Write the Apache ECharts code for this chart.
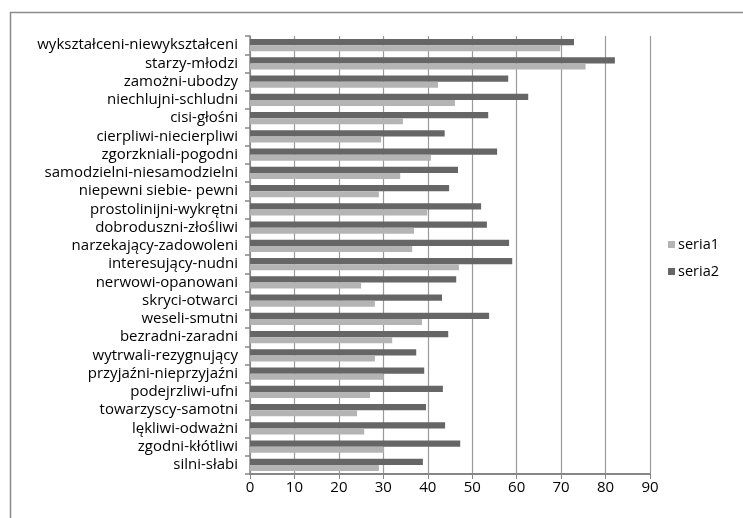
<!DOCTYPE html>
<html><head><meta charset="utf-8">
<script src="https://cdn.jsdelivr.net/npm/echarts@6/dist/echarts.min.js"></script>
<style>html,body{margin:0;padding:0;background:#fff}#c{width:743px;height:518px}</style>
</head><body><div id="c"></div>
<script>
const categories = ["silni-słabi","zgodni-kłótliwi","lękliwi-odważni","towarzyscy-samotni","podejrzliwi-ufni","przyjaźni-nieprzyjaźni","wytrwali-rezygnujący","bezradni-zaradni","weseli-smutni","skryci-otwarci","nerwowi-opanowani","interesujący-nudni","narzekający-zadowoleni","dobroduszni-złośliwi","prostolinijni-wykrętni","niepewni siebie- pewni","samodzielni-niesamodzielni","zgorzkniali-pogodni","cierpliwi-niecierpliwi","cisi-głośni","niechlujni-schludni","zamożni-ubodzy","starzy-młodzi","wykształceni-niewykształceni"];
const seria1 = [29.0,30.1,25.7,24.1,27.0,30.1,28.1,32.0,38.7,28.1,25.0,47.0,36.5,36.9,39.9,29.0,33.8,40.7,29.5,34.4,46.1,42.3,75.5,69.8];
const seria2 = [38.9,47.3,43.9,39.6,43.4,39.2,37.4,44.6,53.8,43.2,46.4,59.0,58.3,53.3,52.0,44.8,46.8,55.6,43.8,53.6,62.6,58.1,82.1,72.9];
const xTicks = {min:0, max:90, interval:10};

const chart = echarts.init(document.getElementById('c'), null, {renderer:'canvas'});
const font = '"Open Sans", sans-serif';
chart.setOption({
  animation:false,
  graphic:[{type:'rect', left:8, top:10, shape:{width:760, height:540}, style:{fill:'none', stroke:'#8a8a8a', lineWidth:1.5}, z:-1}],
  grid:{left:250, right:93, top:36, bottom:44, containLabel:false},
  legend:{orient:'vertical', left:663, top:232, itemWidth:7, itemHeight:7, itemGap:12, icon:'rect',
    textStyle:{fontFamily:font, fontSize:14.5, color:'#000', padding:[0,0,0,-2]},
    data:['seria1','seria2']},
  xAxis:{type:'value', min:xTicks.min, max:xTicks.max, interval:xTicks.interval,
    axisLine:{show:true, lineStyle:{color:'#868686', width:2}},
    axisTick:{show:true, length:5, lineStyle:{color:'#868686'}},
    axisLabel:{fontFamily:font, fontSize:15, color:'#000', margin:6},
    splitLine:{show:true, lineStyle:{color:'#9a9a9a', width:1.2}}},
  yAxis:{type:'category', data:categories,
    axisLine:{show:true, lineStyle:{color:'#868686', width:1.5}},
    axisTick:{show:true, length:5, lineStyle:{color:'#868686', width:1.5}},
    axisLabel:{fontFamily:font, fontSize:15, lineHeight:17, color:'#000', margin:12, interval:0}},
  series:[
    {name:'seria2', type:'bar', data:seria2, itemStyle:{color:'#666666'}, barGap:'0%', barCategoryGap:'34%'},
    {name:'seria1', type:'bar', data:seria1, itemStyle:{color:'#b4b4b4'}, barGap:'0%', barCategoryGap:'34%'}
  ]
});
</script></body></html>
